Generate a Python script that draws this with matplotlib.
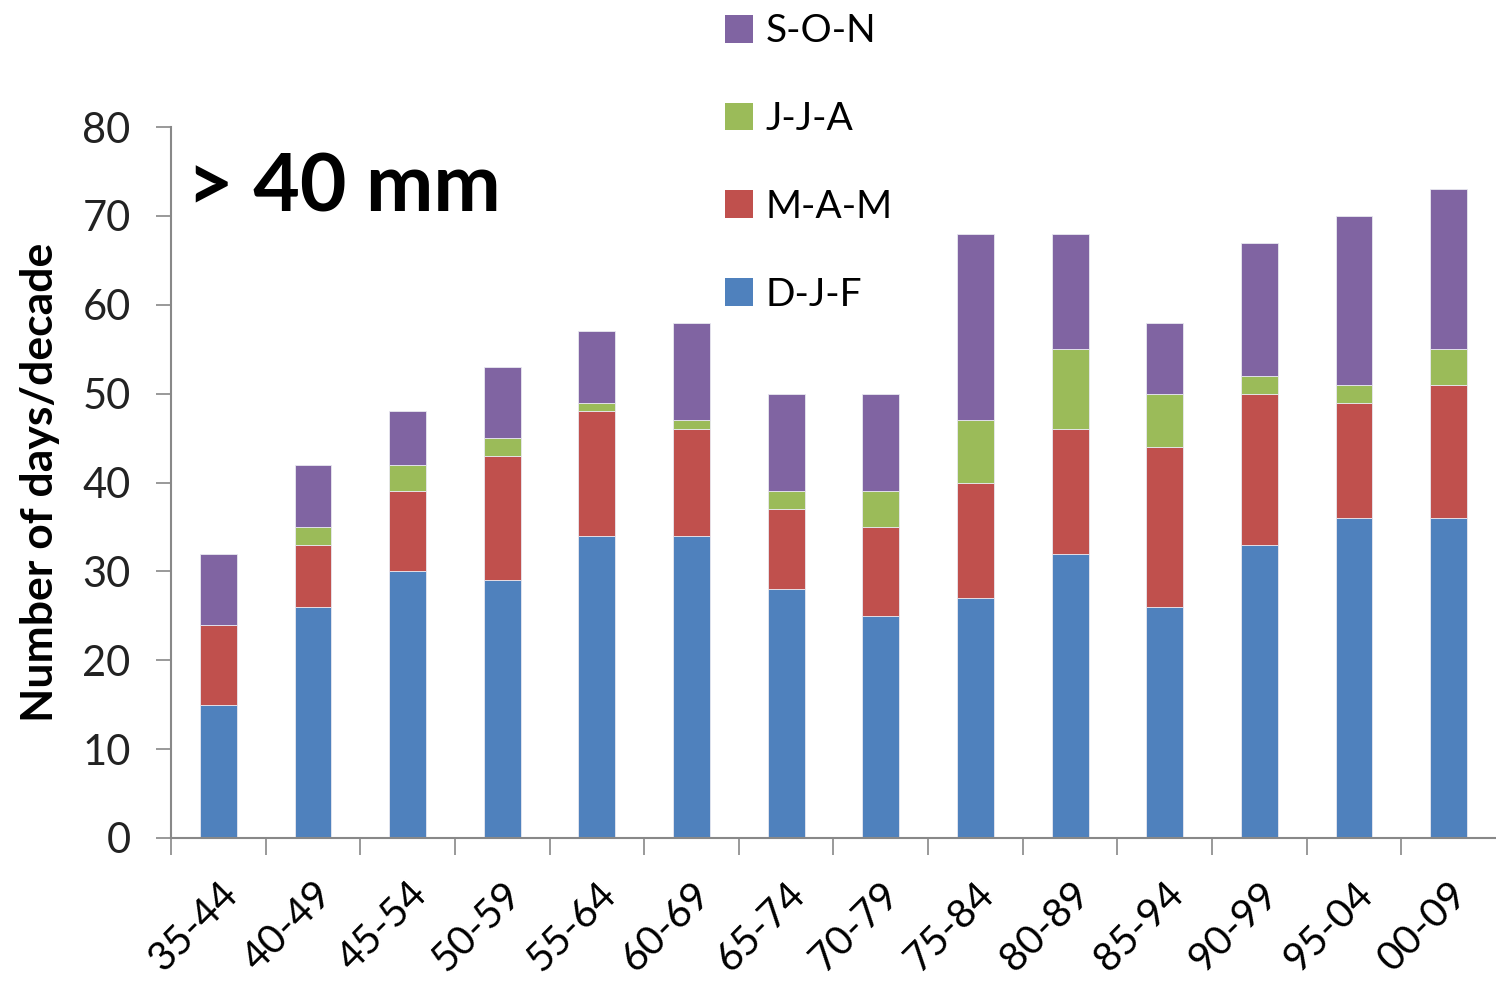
import numpy as np
import matplotlib
matplotlib.use('Agg')
import matplotlib.pyplot as plt
from matplotlib.patches import Patch

plt.rcParams['font.family'] = ['Lato', 'DejaVu Sans']

decades = ['35-44', '40-49', '45-54', '50-59', '55-64', '60-69', '65-74',
           '70-79', '75-84', '80-89', '85-94', '90-99', '95-04', '00-09']
djf = [15, 26, 30, 29, 34, 34, 28, 25, 27, 32, 26, 33, 36, 36]
mam = [9, 7, 9, 14, 14, 12, 9, 10, 13, 14, 18, 17, 13, 15]
jja = [0, 2, 3, 2, 1, 1, 2, 4, 7, 9, 6, 2, 2, 4]
son = [8, 7, 6, 8, 8, 11, 11, 11, 21, 13, 8, 15, 19, 18]

series = [('D-J-F', djf, '#4F81BD'), ('M-A-M', mam, '#C0504D'),
          ('J-J-A', jja, '#9BBB59'), ('S-O-N', son, '#8064A2')]

fig = plt.figure(figsize=(14.96, 9.81), dpi=100)
ax = fig.add_axes([0.1143, 0.1458, 0.8857, 0.7247])

x = np.arange(len(decades))
bottom = np.zeros(len(decades))
for name, vals, col in series:
    ax.bar(x, vals, width=0.39, bottom=bottom, color=col,
           edgecolor='#e8e8f0', linewidth=0.6)
    bottom += np.array(vals)

ax.set_ylim(0, 80)
ax.set_xlim(-0.5, len(decades) - 0.5)
ax.set_yticks(range(0, 81, 10))
ax.tick_params(axis='y', labelsize=30, length=11, width=1.2, color='#888888',
               pad=18, labelcolor='#222222')

# boundaries get the ticks, centres get the labels
ax.set_xticks(np.arange(-0.5, len(decades) - 0.5, 1.0))
ax.set_xticklabels([])
ax.tick_params(axis='x', which='major', length=12, width=1.2, color='#888888')
ax.set_xticks(x, minor=True)
ax.set_xticklabels(decades, minor=True, rotation=45, ha='right',
                   rotation_mode='anchor', fontsize=29)
ax.tick_params(axis='x', which='minor', length=0, pad=27)

for s in ['top', 'right']:
    ax.spines[s].set_visible(False)
for s in ['left', 'bottom']:
    ax.spines[s].set_color('#888888')
    ax.spines[s].set_linewidth(1.5)

ax.set_ylabel('Number of days/decade', fontsize=32, fontweight='bold', labelpad=16)
ax.text(0.012, 0.965, '> 40 mm', transform=ax.transAxes, fontsize=58,
        fontweight='bold', va='top', ha='left')

handles = [Patch(facecolor=col, label=name) for name, vals, col in series][::-1]
fig.legend(handles=handles, loc='upper left', bbox_to_anchor=(0.464, 1.018),
           frameon=False, fontsize=28, handlelength=0.72, handleheight=0.72,
           handletextpad=0.31, labelspacing=1.33, borderpad=0.3)

plt.savefig('out.png', dpi=100)
